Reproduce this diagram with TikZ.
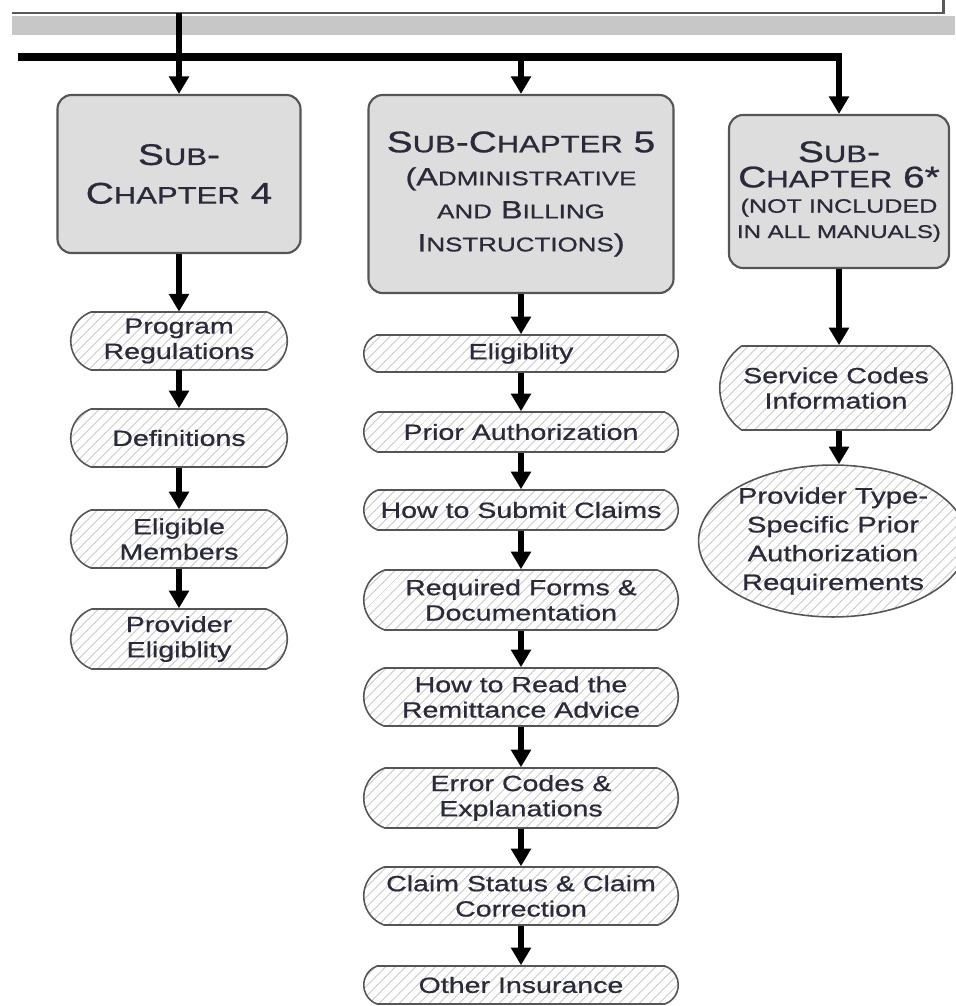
\documentclass[tikz,border=0pt]{standalone}
\usepackage{fontspec}
\setmainfont{Liberation Sans}[FakeStretch=1.3,FakeBold=0.8]
\usepackage{graphicx}
\usepackage{tikz}
\usetikzlibrary{shapes,arrows.meta,positioning,patterns.meta}
\definecolor{boxgray}{RGB}{221,221,221}
\definecolor{edgegray}{RGB}{85,85,85}
\definecolor{txtgray}{RGB}{42,42,58}
\definecolor{hatchgray}{RGB}{195,195,195}
\tikzstyle{chapblock}=[rectangle, rounded corners=8pt, draw=edgegray, line width=1.2pt, fill=boxgray, align=center, text=txtgray]
\tikzstyle{topicblock}=[rounded rectangle, rounded rectangle arc length=140, draw=edgegray, line width=0.9pt, pattern={Lines[angle=45,distance=4pt,line width=0.5pt]}, pattern color=hatchgray, align=center, text=txtgray, font=\fontsize{12.5}{14.4}\selectfont, inner sep=1pt]
\tikzstyle{bigarrow}=[-{Triangle[width=11pt,length=10pt]}, line width=3pt]
\tikzstyle{busline}=[line width=4pt]
\newcommand{\smcap}[1]{\scalebox{0.8}{#1}}
\newcommand{\subline}{\fontsize{14.2}{18.8}\selectfont}

\begin{document}
\begin{tikzpicture}

\useasboundingbox (0,0) rectangle (19.1,-20.12);

\fill[black!22] (0.24,-0.32) rectangle (19.1,-0.70);
\draw[black!65, line width=1.7pt] (0.24,-0.26) -- (18.86,-0.26) -- (18.86,0);
\coordinate (top4) at (3.58,-0.26);
\coordinate (busL) at (0.36,-1.14);
\coordinate (bus5) at (10.42,-1.14);
\coordinate (busR) at (16.78,-1.14);

\node[chapblock, minimum width=4.86cm, minimum height=3.16cm, font=\fontsize{17}{22}\selectfont] (sc4) at (3.58,-3.48) {S\smcap{UB}-\\C\smcap{HAPTER} 4};
\node[chapblock, minimum width=6.1cm, minimum height=3.96cm, font=\fontsize{17}{18.8}\selectfont] (sc5) at (10.42,-3.88) {S\smcap{UB}-C\smcap{HAPTER} 5\\\subline (A\smcap{DMINISTRATIVE}\\\subline \smcap{AND} B\smcap{ILLING}\\\subline I\smcap{NSTRUCTIONS})};
\node[chapblock, minimum width=4.4cm, minimum height=3.06cm, font=\fontsize{17}{14.4}\selectfont] (sc6) at (16.78,-3.83) {S\smcap{UB}-\\C\smcap{HAPTER} 6*\\{\fontsize{11}{14.4}\selectfont (NOT INCLUDED}\\{\fontsize{10.5}{14.4}\selectfont IN ALL MANUALS)}};

\node[topicblock, minimum width=4.4cm, minimum height=1.16cm] (p1) at (3.58,-6.82) {Program\\Regulations};
\node[topicblock, minimum width=4.4cm, minimum height=1.16cm] (p2) at (3.58,-8.76) {Definitions};
\node[topicblock, minimum width=4.4cm, minimum height=1.16cm] (p3) at (3.58,-10.78) {Eligible\\Members};
\node[topicblock, minimum width=4.4cm, minimum height=1.2cm] (p4) at (3.58,-12.78) {Provider\\Eligiblity};

\node[topicblock, minimum width=6.36cm, minimum height=0.74cm] (e1) at (10.42,-7.07) {Eligiblity};
\node[topicblock, minimum width=6.36cm, minimum height=0.8cm] (e2) at (10.42,-8.64) {Prior Authorization};
\node[topicblock, minimum width=6.36cm, minimum height=0.8cm] (e3) at (10.42,-10.2) {How to Submit Claims};
\node[topicblock, minimum width=6.36cm, minimum height=1.2cm] (e4) at (10.42,-12.0) {Required Forms \&\\Documentation};
\node[topicblock, minimum width=6.36cm, minimum height=1.16cm] (e5) at (10.42,-13.94) {How to Read the\\Remittance Advice};
\node[topicblock, minimum width=6.36cm, minimum height=1.2cm] (e6) at (10.42,-15.96) {Error Codes \&\\Explanations};
\node[topicblock, minimum width=6.36cm, minimum height=1.16cm] (e7) at (10.42,-17.92) {Claim Status \& Claim\\Correction};
\node[topicblock, minimum width=6.36cm, minimum height=0.76cm] (e8) at (10.42,-19.7) {Other Insurance};

\node[topicblock, rounded rectangle arc length=110, minimum width=4.72cm, minimum height=1.68cm] (s1) at (16.72,-7.76) {Service Codes\\Information};
\node[topicblock, ellipse, inner sep=0pt, minimum width=4.86cm, minimum height=2.76cm, font=\fontsize{12.8}{16.4}\selectfont] (s2) at (16.66,-10.82) {Provider Type-\\Specific Prior\\Authorization\\Requirements};

\draw[busline] (busL) -- (busR);
\draw[bigarrow] (top4) -- (sc4.north);
\draw[bigarrow] (bus5) -- (sc5.north);
\draw[bigarrow, shorten <=-2pt] (busR) -- (sc6.north);

\draw[bigarrow] (sc4.south) -- (p1.north);
\draw[bigarrow] (p1.south) -- (p2.north);
\draw[bigarrow] (p2.south) -- (p3.north);
\draw[bigarrow] (p3.south) -- (p4.north);

\draw[bigarrow] (sc5.south) -- (e1.north);
\draw[bigarrow] (e1.south) -- (e2.north);
\draw[bigarrow] (e2.south) -- (e3.north);
\draw[bigarrow] (e3.south) -- (e4.north);
\draw[bigarrow] (e4.south) -- (e5.north);
\draw[bigarrow] (e5.south) -- (e6.north);
\draw[bigarrow] (e6.south) -- (e7.north);
\draw[bigarrow] (e7.south) -- (e8.north);

\draw[bigarrow] (sc6.south) -- (sc6.south |- s1.north);
\draw[bigarrow] (s1.south -| sc6.south) -- (sc6.south |- s2.north);

\end{tikzpicture}
\end{document}
